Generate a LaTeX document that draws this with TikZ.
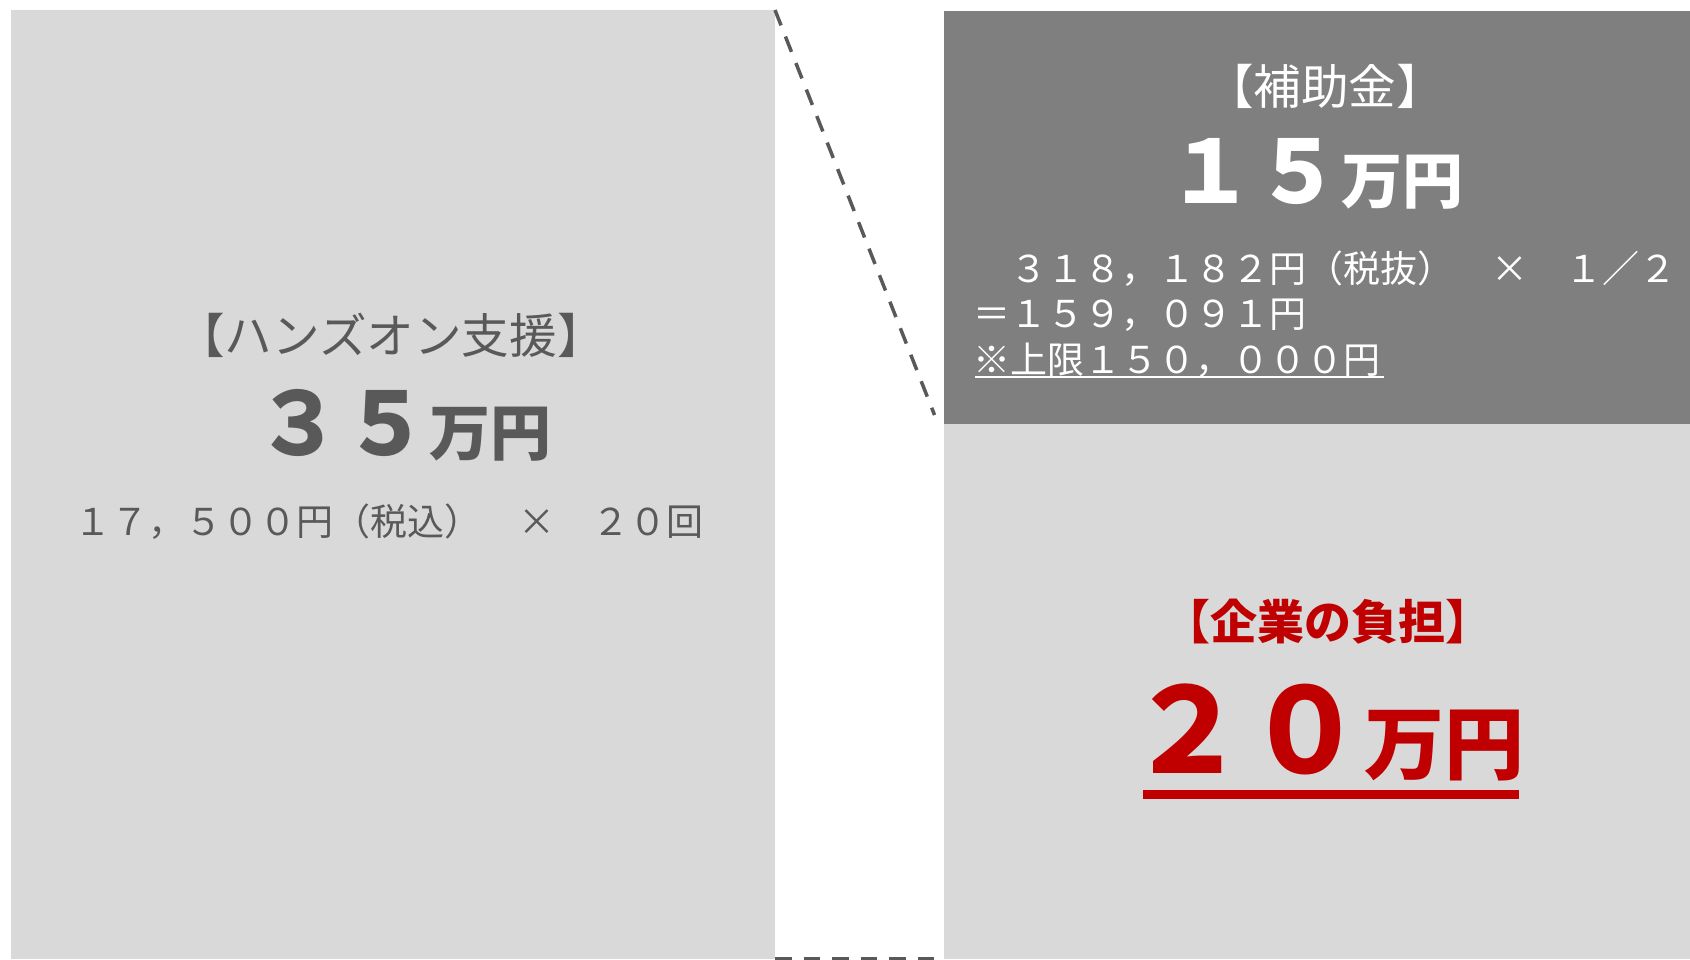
\documentclass[tikz,border=0pt]{standalone}
\usepackage{fontspec}
\setmainfont{Noto Sans CJK JP}
\usetikzlibrary{calc}
\definecolor{txtgray}{HTML}{595959}
\definecolor{boxlight}{HTML}{D9D9D9}
\definecolor{boxdark}{HTML}{7F7F7F}
\definecolor{accred}{HTML}{C00000}
\newcommand{\fsz}[1]{\fontsize{#1}{1.2\dimexpr#1\relax}\selectfont}
\begin{document}
\begin{tikzpicture}[x=0.5pt,y=-0.5pt,
  box/.style={inner sep=0pt, outer sep=0pt, anchor=north west},
  txt/.style={inner sep=0pt, outer sep=0pt},
  dashline/.style={draw=txtgray, line width=1.75pt, dash pattern=on 8.25pt off 6pt}]
\useasboundingbox (0,0) rectangle (1690,959);
% panels
\node[box, fill=boxlight, minimum width=382pt, minimum height=474.5pt] (left) at (11,10) {};
\node[box, fill=boxdark, minimum width=373pt, minimum height=206.5pt] (rtop) at (944,11) {};
\node[box, fill=boxlight, minimum width=373pt, minimum height=267.5pt] (rbot) at (944,424) {};
\coordinate (diagend) at (934.5,415);
% dashed connectors
\draw[dashline] (left.north east) -- (diagend);
\draw[dashline] (left.south east) -- (rbot.south west);
% left texts
\node[txt, text=txtgray, font=\fsz{23.8pt}] (l1) at (391,335.5) {【ハンズオン支援】};
\node[txt, text=txtgray, font=\bfseries\fsz{43.5pt}] (l2) at (403,425) {３５{\fsz{30.5pt}万円}};
\node[txt, text=txtgray, font=\fsz{18.5pt}] (l3) at (389,521.5) {１７，５００円（税込）　×　２０回};
% right top texts
\node[txt, text=white, font=\fsz{23.8pt}] (r1) at (1325,86) {【補助金】};
\node[txt, text=white, font=\bfseries\fsz{43.5pt}] (r2) at (1315,173.5) {１５{\fsz{30.5pt}万円}};
\node[txt, text=white, font=\fsz{18.5pt}, anchor=base west] (r3a) at (973,282) {　３１８，１８２円（税抜）　×　１／２};
\node[txt, text=white, font=\fsz{18.5pt}, anchor=base west] (r3b) at (973,327) {＝１５９，０９１円};
\node[txt, text=white, font=\fsz{18.5pt}, anchor=base west] (r3c) at (973,373) {※上限１５０，０００円};
\draw[white, line width=1pt] ($(r3c.base west)+(2,4)$) -- ($(r3c.base east)+(4,4)$);
% right bottom texts
\node[txt, text=accred, font=\bfseries\fsz{23.5pt}] (b1) at (1328,622) {【企業の負担】};
\node[txt, text=accred, font=\bfseries\fsz{59pt}] (b2) at (1326,732) {２０{\fsz{40pt}万円}};
\draw[accred, line width=4.5pt] ($(b2.base west)+(15,21.5)$) -- ($(b2.base east)+(-5,21.5)$);
\end{tikzpicture}
\end{document}
